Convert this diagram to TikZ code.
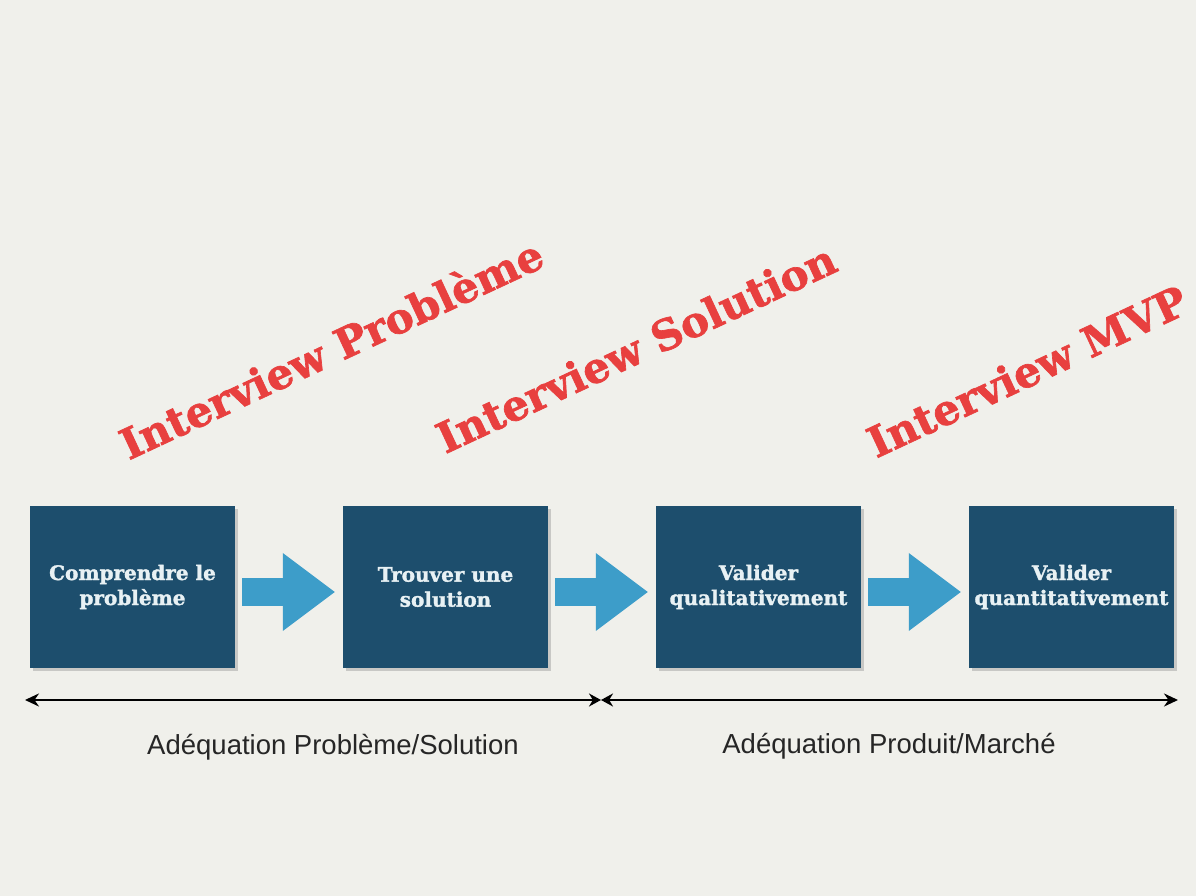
\documentclass[tikz,border=0pt]{standalone}
\usepackage{fontspec}
\setmainfont{DejaVu Serif}
\newfontfamily\grasse[FakeBold=1.6]{DejaVu Serif Bold}
\newfontfamily\phasefont{Liberation Sans}
\usetikzlibrary{arrows.meta,shadows}

\definecolor{fond}{HTML}{F0F0EB}
\definecolor{bleufonce}{HTML}{1D4E6D}
\definecolor{textebloc}{HTML}{E8F1F4}
\definecolor{bleuclair}{HTML}{3D9DC9}
\definecolor{rouge}{HTML}{E8403F}

\begin{document}
\begin{tikzpicture}[x=1pt,y=1pt,node distance=313pt]
  \tikzstyle{etape}=[fill=bleufonce, minimum width=205pt, minimum height=162pt,
    text=textebloc, align=center, font=\grasse\fontsize{20}{25}\selectfont,
    drop shadow={shadow xshift=3pt, shadow yshift=-3pt, opacity=.35}]
  \tikzstyle{fleche}=[draw=bleuclair, line width=28pt,
    -{Triangle[length=52pt, width=78pt, line width=0pt]}]
  \tikzstyle{interview}=[text=rouge, rotate=25, font=\grasse\fontsize{42}{44}\selectfont]
  \tikzstyle{phase}=[text=black!85, font=\phasefont\fontsize{27.5}{30}\selectfont]

  \fill[fond] (0,0) rectangle (1196,896);

  \node[etape] (A)              at (132.5,309) {Comprendre le\\problème};
  \node[etape] (B) [right of=A] {Trouver une\\solution};
  \node[etape] (C) [right of=B] {Valider\\qualitativement};
  \node[etape] (D) [right of=C] {Valider\\quantitativement};

  \draw[fleche] ([shift={(7,-5)}]A.east) -- ([shift={(-8,-5)}]B.west);
  \draw[fleche] ([shift={(7,-5)}]B.east) -- ([shift={(-8,-5)}]C.west);
  \draw[fleche] ([shift={(7,-5)}]C.east) -- ([shift={(-8,-5)}]D.west);

  \node[interview] (IP) at (331,548) {Interview Problème};
  \node[interview] (IS) at (636,548) {Interview Solution};
  \node[interview] (IM) at (1027,525) {Interview MVP};

  \coordinate (L) at (25,196);
  \coordinate (M) at (601,196);
  \coordinate (R) at (1178,196);
  \draw[line width=2.5pt, {Stealth[length=14pt,width=13pt]}-{Stealth[length=12pt,width=13pt]}] (L) -- (M);
  \draw[line width=2.5pt, {Stealth[length=12pt,width=13pt]}-{Stealth[length=14pt,width=13pt]}] (M) -- (R);

  \node[phase] (P1) at (333,149) {Adéquation Problème/Solution};
  \node[phase] (P2) at (889,150) {Adéquation Produit/Marché};
\end{tikzpicture}
\end{document}
